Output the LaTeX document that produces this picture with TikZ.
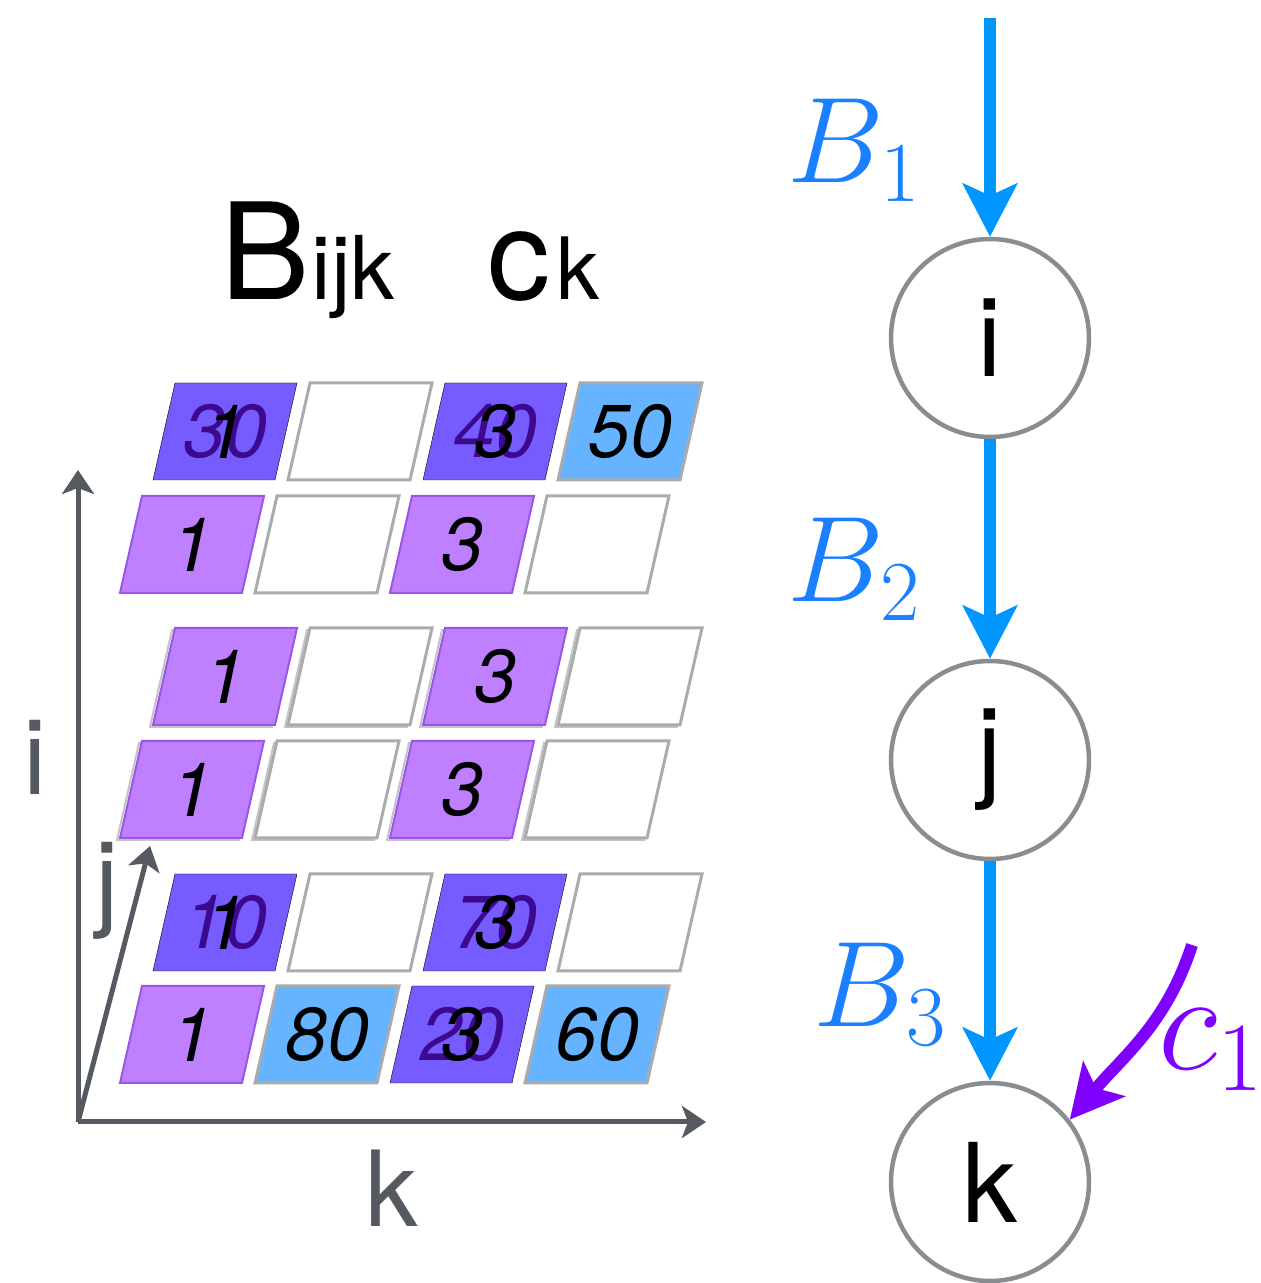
\RequirePackage{fix-cm}
\documentclass[tikz,border=0pt]{standalone}
\usepackage{amsmath}
\usepackage{fontspec}
\setsansfont{TeX Gyre Heros}
\usetikzlibrary{arrows.meta}

\definecolor{darkcell}{HTML}{765BFF}
\definecolor{lightcell}{HTML}{BF80FF}
\definecolor{lightedge}{HTML}{9A55E8}
\definecolor{bluecell}{HTML}{66B3FF}
\definecolor{overtext}{HTML}{3D0A8F}
\definecolor{edgegray}{HTML}{ABABAB}
\definecolor{axisgray}{HTML}{555A60}
\definecolor{nodegray}{HTML}{898C90}
\definecolor{flowblue}{HTML}{0096FF}
\definecolor{labelblue}{HTML}{1A80FF}
\definecolor{cviolet}{HTML}{8000FF}

\tikzset{
  cellplain/.style={draw=edgegray,line width=3pt,fill=white},
  cellblue/.style={draw=edgegray,line width=3pt,fill=bluecell},
  celllight/.style={draw=lightedge,line width=2pt,fill=lightcell},
  celldark/.style={fill=darkcell},
  ghostline/.style={draw=edgegray!70,line width=2pt},
  backnum/.style={inner sep=0pt,text=overtext,font=\fontsize{75}{80}\selectfont\sffamily\itshape},
  frontnum/.style={inner sep=0pt,text=black,font=\fontsize{75}{80}\selectfont\sffamily\itshape},
  axis/.style={draw=axisgray,line width=5pt,-{Stealth[length=24pt,width=32pt,inset=6pt]}},
  axlab/.style={inner sep=0pt,text=axisgray,font=\fontsize{105}{110}\selectfont\sffamily},
  hdr/.style={inner sep=0pt,anchor=base west,font=\sffamily},
  vnode/.style={circle,draw=nodegray,line width=4.5pt,minimum size=198pt,inner sep=0pt,
    font=\fontsize{110}{120}\selectfont\sffamily},
  flow/.style={draw=flowblue,line width=12pt,-{Stealth[length=53pt,width=54pt,inset=12pt]}},
  cflow/.style={draw=cviolet,line width=12pt,-{Stealth[length=53pt,width=54pt,inset=12pt]}},
  blab/.style={inner sep=0pt,anchor=base west,text=labelblue,font=\fontsize{122}{140}\selectfont},
  clab/.style={inner sep=0pt,anchor=base west,text=cviolet,font=\fontsize{140}{160}\selectfont}
}

\begin{document}
\begin{tikzpicture}[x=1pt,y=1pt]
\path[use as bounding box] (0,0) rectangle (1261,1283);
% the six slices of B_ijk and c_k
\foreach \by/\bx in {558/153,445/120}
  \foreach \c in {0,...,3}
    \draw[ghostline] ({\bx+135*\c-3},{\by-2}) -- ++(122,0) -- ++(22,97) -- ++(-122,0) -- cycle;
\foreach \bx/\by/\kind/\back/\front [count=\n] in {
    153/803/dark/30/1, 288/803/plain/{}/{}, 423/803/dark/40/3, 558/803/blue/{}/50,
    120/690/light/{}/1, 255/690/plain/{}/{}, 390/690/light/{}/3, 525/690/plain/{}/{},
    153/558/light/{}/1, 288/558/plain/{}/{}, 423/558/light/{}/3, 558/558/plain/{}/{},
    120/445/light/{}/1, 255/445/plain/{}/{}, 390/445/light/{}/3, 525/445/plain/{}/{},
    153/312/dark/10/1, 288/312/plain/{}/{}, 423/312/dark/70/3, 558/312/plain/{}/{},
    120/200/light/{}/1, 255/200/blue/{}/80, 390/200/dark/20/3, 525/200/blue/{}/60} {
  \draw[cell\kind] (\bx,\by) -- ++(122,0) -- ++(22,97) -- ++(-122,0) -- cycle;
  \node[backnum] (b\n) at (\bx+72,\by+48.5) {\back};
  \node[frontnum] (f\n) at (\bx+72,\by+48.5) {\front};
}
% axes
\coordinate (o) at (78,161);
\coordinate (itop) at (78,813);
\coordinate (jtop) at (150,437);
\coordinate (ktop) at (706,161);
\draw[axis] (o) -- (itop);
\draw[axis] (o) -- (jtop);
\draw[axis] (o) -- (ktop);
\node[axlab] (li) at (35,526) {i};
\node[axlab] (lj) at (107,392) {j};
\node[axlab] (lk) at (392,95) {k};
\node[hdr] (hb) at (220,983) {\fontsize{134}{150}\selectfont B\kern2pt\fontsize{88}{90}\selectfont ijk};
\node[hdr] (hc) at (487,983) {\fontsize{126}{130}\selectfont c\kern6pt\fontsize{86}{90}\selectfont k};
% the chain i -> j -> k
\node[vnode] (ni) at (990,945) {i};
\node[vnode] (nj) at (990,523) {j};
\node[vnode] (nk) at (990,101) {k};
\coordinate (src) at (990,1265);
\coordinate (csrc) at (1192,338);
\draw[flow] (src) -- (ni);
\draw[flow] (ni) -- (nj);
\draw[flow] (nj) -- (nk);
\draw[cflow] (csrc) to[out=252,in=50] (nk.38);
\node[blab] (lb1) at (787,1100) {$B_{\kern3pt 1}$};
\node[blab] (lb2) at (787,681) {$B_{\kern3pt 2}$};
\node[blab] (lb3) at (813,256) {$B_{\kern3pt 3}$};
\node[clab] (lc1) at (1158,213) {$c_1$};
\end{tikzpicture}
\end{document}
